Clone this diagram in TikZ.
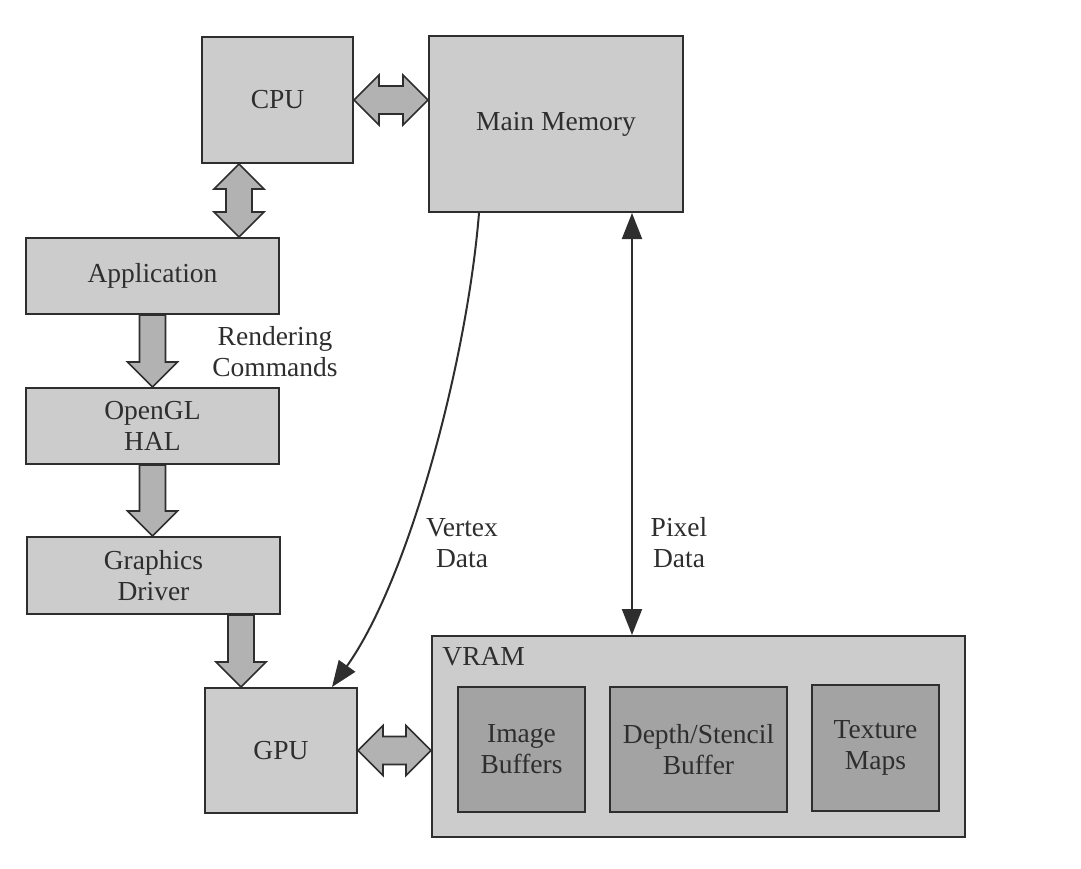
\documentclass[tikz,border=0pt]{standalone}
\usepackage{fontspec}
\setmainfont{Liberation Serif}
\usetikzlibrary{calc,arrows.meta}

\definecolor{boxgray}{gray}{0.80}
\definecolor{bufgray}{gray}{0.64}
\definecolor{arrgray}{gray}{0.70}
\definecolor{inkgray}{gray}{0.18}

\tikzset{
	box/.style={draw=inkgray, fill=boxgray, line width=1pt, inner sep=0pt, align=center,
		text=inkgray, font=\fontsize{13.75}{15.5}\selectfont},
	buf/.style={box, fill=bufgray},
	lbl/.style={align=center, text=inkgray, font=\fontsize{13.75}{15.5}\selectfont},
	blk/.style={draw=inkgray, fill=arrgray, line width=0.8pt, line join=miter},
	% block arrow pointing down
	sdn/.style={blk, to path={-- ++(13,0) -- ($(\tikztotarget)+(13,-25)$) -- ++(12,0)
		-- (\tikztotarget) -- ++(-25,-25) -- ++(12,0) -- ($(\tikztostart)+(-13,0)$) -- cycle}},
	% vertical block arrow, both ends
	vdbl/.style={blk, to path={-- ++(25,25) -- ++(-12,0) -- ($(\tikztotarget)+(13,-25)$) -- ++(12,0)
		-- (\tikztotarget) -- ++(-25,-25) -- ++(12,0) -- ($(\tikztostart)+(-13,25)$) -- ++(-12,0) -- cycle}},
	% horizontal block arrow, both ends
	hdbl/.style={blk, to path={-- ++(25,-25) -- ++(0,11) -- ($(\tikztotarget)+(-25,-14)$) -- ++(0,-11)
		-- (\tikztotarget) -- ++(-25,25) -- ++(0,-11) -- ($(\tikztostart)+(25,14)$) -- ++(0,11) -- cycle}},
	flow/.style={draw=inkgray, line width=1pt},
	tip/.tip={Triangle[length=13pt, width=10pt]}
}

\begin{document}
\begin{tikzpicture}[x=0.5pt, y=-0.5pt]
	\useasboundingbox (0,0) rectangle (1081,868);

	% boxes
	\node[box, minimum width=75.5pt, minimum height=63pt] (cpu) at (277.5,100) {CPU};
	\node[box, minimum width=127pt, minimum height=88pt] (mem) at (556,124) {Main Memory};
	\node[box, minimum width=126.5pt, minimum height=38pt] (app) at (152.5,276) {Application};
	\node[box, minimum width=126.5pt, minimum height=38pt] (ogl) at (152.5,426) {OpenGL\\HAL};
	\node[box, minimum width=126.5pt, minimum height=38.5pt] (gfx) at (153.5,575.5) {Graphics\\Driver};
	\node[box, minimum width=76pt, minimum height=62.5pt] (gpu) at (281,750.5) {GPU};
	\node[box, minimum width=266.5pt, minimum height=100.5pt] (vram) at (698.5,736.5) {};
	\node[lbl, anchor=west, inner sep=0pt] (vramlbl) at ($(vram.north west)+(11,22)$) {VRAM};
	\node[buf, minimum width=63.5pt, minimum height=62.5pt] (img) at (521.5,749.5) {Image\\Buffers};
	\node[buf, minimum width=88.5pt, minimum height=62.5pt] (dep) at (698.5,749.5) {Depth/Stencil\\Buffer};
	\node[buf, minimum width=63.5pt, minimum height=63pt] (tex) at (875.5,748) {Texture\\Maps};

	% end points of the connectors
	\coordinate (cm0) at (cpu.east);
	\coordinate (cm1) at (cpu.east -| mem.west);
	\coordinate (ca0) at ($(cpu.south west)+(38,0)$);
	\coordinate (ca1) at (ca0 |- app.north);
	\coordinate (ao0) at (app.south);
	\coordinate (ao1) at (ao0 |- ogl.north);
	\coordinate (og0) at (ogl.south);
	\coordinate (og1) at (og0 |- gfx.north);
	\coordinate (gg1) at ($(gpu.north west)+(37,0)$);
	\coordinate (gg0) at (gg1 |- gfx.south);
	\coordinate (gv0) at (gpu.east);
	\coordinate (gv1) at (gpu.east -| vram.west);
	\coordinate (vx0) at ($(mem.south west)+(51,0)$);
	\coordinate (vx1) at ($(gpu.north west)+(128,0)$);
	\coordinate (px0) at ($(mem.south west)+(204,0)$);
	\coordinate (px1) at (px0 |- vram.north);

	% block arrows
	\draw[hdbl] (cm0) to (cm1);
	\draw[vdbl] (ca0) to (ca1);
	\draw[sdn] (ao0) to (ao1);
	\draw[sdn] (og0) to (og1);
	\draw[sdn] (gg0) to (gg1);
	\draw[hdbl] (gv0) to (gv1);

	% data paths
	\draw[flow, -tip] (vx0) .. controls ($(vx0)+(-12,148)$) and ($(vx1)+(77,-108)$) .. (vx1);
	\draw[flow, tip-tip] (px0) -- (px1);

	% labels
	\node[lbl] (rend) at (275,352) {Rendering\\Commands};
	\node[lbl] (vtx) at (462,543) {Vertex\\Data};
	\node[lbl] (pix) at (679,543) {Pixel\\Data};
\end{tikzpicture}
\end{document}
